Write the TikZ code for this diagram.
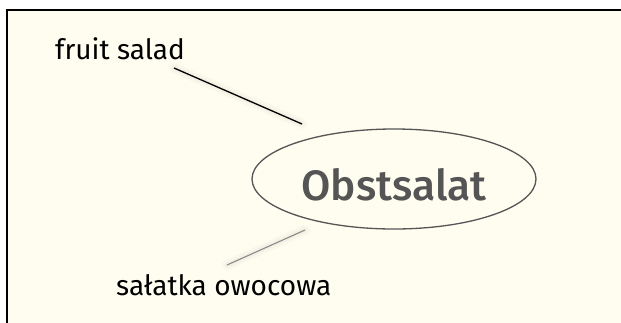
\documentclass[tikz,border=0pt]{standalone}
\usepackage{fontspec}
\setmainfont{Fira Sans}
\newfontfamily\medfont{Fira Sans Medium}
\usetikzlibrary{shapes.geometric}
\definecolor{cream}{HTML}{FEFDF0}
\definecolor{ink}{HTML}{555555}
\definecolor{lightline}{HTML}{8A8A8A}
\tikzset{
  lbl/.style={anchor=base west, inner sep=0pt, font=\fontsize{28}{34}\selectfont, text=black},
  mainell/.style={ellipse, draw=ink, line width=1.3pt, fill=cream, minimum width=284pt, minimum height=100pt, inner sep=0pt,
     text=ink, font=\medfont\fontsize{42.5}{50}\selectfont, text height=50pt, text depth=8pt},
  shadowline/.style={line cap=round, draw=black, opacity=0.025},
}
\begin{document}
\begin{tikzpicture}[x=1pt,y=-1pt]
\useasboundingbox (0,0) rectangle (621,322);
\fill[white] (0,0) rectangle (621,322);
\fill[cream] (7,10) rectangle (630,330);
\draw[line width=1.6pt] (7,332) -- (7,10) -- (630,10);

\node[mainell] (main) at (394,179) {Obstsalat};
\node[lbl] (en) at (55,59) {fruit salad};
\node[lbl] (pl) at (116,295) {sałatka owocowa};

\coordinate (a1) at (174,68);
\coordinate (a2) at (302,124);
\coordinate (b1) at (305,230);
\coordinate (b2) at (227,265);

\begin{scope}[shift={(4,6)}]
\draw[shadowline, line width=10pt] (a1) -- (a2);
\draw[shadowline, line width=5pt] (a1) -- (a2);
\draw[shadowline, line width=10pt] (b1) -- (b2);
\draw[shadowline, line width=5pt] (b1) -- (b2);
\end{scope}
\draw[line width=1.3pt, black] (a1) -- (a2);
\draw[line width=1.1pt, lightline] (b1) -- (b2);
\end{tikzpicture}
\end{document}
